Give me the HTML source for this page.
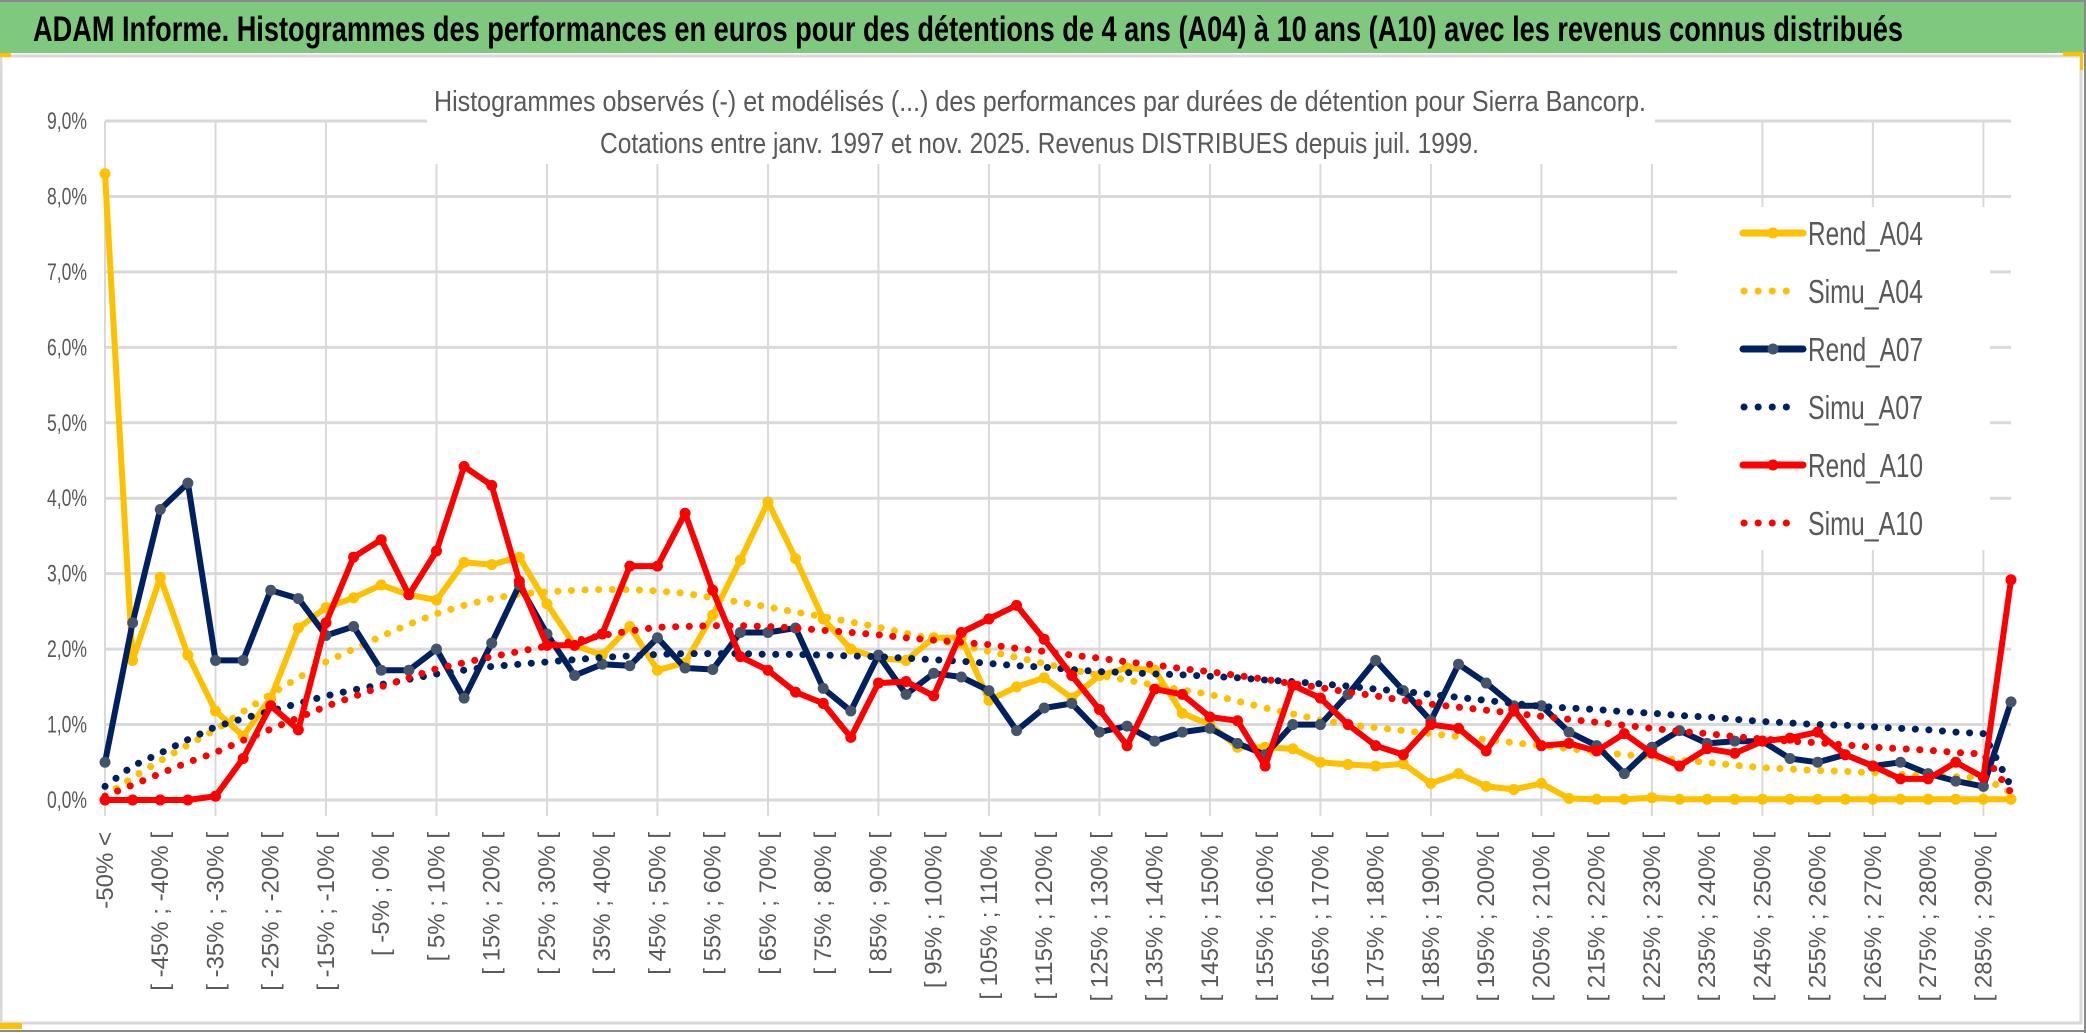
<!DOCTYPE html>
<html><head><meta charset="utf-8"><style>
html,body{margin:0;padding:0;background:#fff;}
svg{display:block;}
text{font-family:"Liberation Sans Narrow","Liberation Sans",sans-serif;}
</style></head><body>
<svg id="chart" width="2086" height="1033" viewBox="0 0 2086 1033" xmlns="http://www.w3.org/2000/svg">
<rect x="0" y="0" width="2086" height="1033" fill="#fff"/>
<rect x="0" y="1" width="2085" height="52" fill="#7FC97F"/>
<line x1="0" y1="1" x2="2086" y2="1" stroke="#8a8a8a" stroke-width="2"/>
<line x1="2085" y1="0" x2="2085" y2="1033" stroke="#8a8a8a" stroke-width="2"/>
<rect x="1" y="56" width="2080" height="967" fill="none" stroke="#d9d9d9" stroke-width="3"/>
<line x1="0" y1="1031" x2="2086" y2="1031" stroke="#8a8a8a" stroke-width="2"/>
<rect x="0" y="53" width="11" height="4" fill="#FFC000"/>
<rect x="0" y="1023" width="22" height="6" fill="#FFC000"/>
<rect x="2063" y="52" width="20" height="4" fill="#FFC000"/>
<rect x="2080" y="52" width="3" height="18" fill="#FFC000"/>
<text x="33" y="41" font-size="35" font-weight="bold" fill="#000" textLength="1870" lengthAdjust="spacingAndGlyphs">ADAM Informe. Histogrammes des performances en euros pour des détentions de 4 ans (A04) à 10 ans (A10) avec les revenus connus distribués</text>
<g id="grid"></g>
<g id="yticks"></g>
<g id="xticks"></g>
<rect x="427" y="84" width="1228" height="80" fill="#fff"/>
<text x="434" y="111" font-size="29" fill="#595959" textLength="1212" lengthAdjust="spacingAndGlyphs">Histogrammes observés (-) et modélisés (...) des performances par durées de détention pour Sierra Bancorp.</text>
<text x="600" y="153" font-size="29" fill="#595959" textLength="879" lengthAdjust="spacingAndGlyphs">Cotations entre janv. 1997 et nov. 2025. Revenus DISTRIBUES depuis juil. 1999.</text>
<g id="series"></g>
<rect x="1677" y="207" width="313" height="343" fill="#fff"/>
<g id="legend"></g>
</svg>
<script>
const categories = ["-50% <","[ -50% ; -45% [","[ -45% ; -40% [","[ -40% ; -35% [","[ -35% ; -30% [","[ -30% ; -25% [","[ -25% ; -20% [","[ -20% ; -15% [","[ -15% ; -10% [","[ -10% ; -5% [","[ -5% ; 0% [","[ 0% ; 5% [","[ 5% ; 10% [","[ 10% ; 15% [","[ 15% ; 20% [","[ 20% ; 25% [","[ 25% ; 30% [","[ 30% ; 35% [","[ 35% ; 40% [","[ 40% ; 45% [","[ 45% ; 50% [","[ 50% ; 55% [","[ 55% ; 60% [","[ 60% ; 65% [","[ 65% ; 70% [","[ 70% ; 75% [","[ 75% ; 80% [","[ 80% ; 85% [","[ 85% ; 90% [","[ 90% ; 95% [","[ 95% ; 100% [","[ 100% ; 105% [","[ 105% ; 110% [","[ 110% ; 115% [","[ 115% ; 120% [","[ 120% ; 125% [","[ 125% ; 130% [","[ 130% ; 135% [","[ 135% ; 140% [","[ 140% ; 145% [","[ 145% ; 150% [","[ 150% ; 155% [","[ 155% ; 160% [","[ 160% ; 165% [","[ 165% ; 170% [","[ 170% ; 175% [","[ 175% ; 180% [","[ 180% ; 185% [","[ 185% ; 190% [","[ 190% ; 195% [","[ 195% ; 200% [","[ 200% ; 205% [","[ 205% ; 210% [","[ 210% ; 215% [","[ 215% ; 220% [","[ 220% ; 225% [","[ 225% ; 230% [","[ 230% ; 235% [","[ 235% ; 240% [","[ 240% ; 245% [","[ 245% ; 250% [","[ 250% ; 255% [","[ 255% ; 260% [","[ 260% ; 265% [","[ 265% ; 270% [","[ 270% ; 275% [","[ 275% ; 280% [","[ 280% ; 285% [","[ 285% ; 290% [","290% >"];
const yTicks = [0,1,2,3,4,5,6,7,8,9];
const yTickLabels = ["0,0%","1,0%","2,0%","3,0%","4,0%","5,0%","6,0%","7,0%","8,0%","9,0%"];
const rendA04 = [8.3,1.85,2.95,1.92,1.18,0.85,1.35,2.28,2.55,2.68,2.85,2.72,2.65,3.15,3.12,3.22,2.6,2.05,1.92,2.3,1.72,1.82,2.45,3.18,3.95,3.2,2.4,2.0,1.88,1.85,2.15,2.15,1.32,1.5,1.62,1.35,1.65,1.75,1.72,1.15,1.0,0.7,0.7,0.68,0.5,0.47,0.45,0.48,0.22,0.35,0.18,0.14,0.22,0.02,0.01,0.01,0.03,0.01,0.01,0.01,0.01,0.01,0.01,0.01,0.01,0.01,0.01,0.01,0.01,0.01];
const simuA04 = [0.05,0.3,0.52,0.73,0.93,1.17,1.4,1.62,1.83,2.0,2.17,2.33,2.47,2.58,2.67,2.73,2.76,2.78,2.79,2.79,2.77,2.74,2.68,2.62,2.56,2.49,2.43,2.36,2.29,2.21,2.13,2.05,1.97,1.89,1.81,1.73,1.65,1.59,1.52,1.46,1.4,1.31,1.22,1.14,1.06,1.0,0.96,0.92,0.88,0.84,0.8,0.76,0.72,0.68,0.64,0.6,0.57,0.53,0.5,0.46,0.43,0.41,0.39,0.38,0.36,0.34,0.32,0.31,0.29,0.1];
const rendA07 = [0.5,2.35,3.85,4.2,1.85,1.85,2.78,2.67,2.18,2.3,1.72,1.72,2.0,1.35,2.08,2.85,2.2,1.65,1.8,1.78,2.15,1.75,1.73,2.22,2.22,2.28,1.48,1.18,1.92,1.4,1.68,1.63,1.45,0.92,1.22,1.28,0.9,0.98,0.78,0.9,0.95,0.75,0.6,1.0,1.0,1.4,1.85,1.45,1.05,1.8,1.55,1.25,1.25,0.9,0.72,0.35,0.7,0.92,0.75,0.78,0.78,0.55,0.5,0.6,0.45,0.5,0.35,0.25,0.18,1.3];
const simuA07 = [0.18,0.45,0.62,0.8,0.97,1.08,1.18,1.28,1.38,1.46,1.53,1.6,1.67,1.72,1.77,1.8,1.83,1.86,1.89,1.91,1.93,1.94,1.94,1.94,1.93,1.93,1.92,1.91,1.9,1.88,1.86,1.84,1.81,1.78,1.76,1.73,1.7,1.69,1.67,1.66,1.64,1.62,1.59,1.57,1.54,1.51,1.47,1.44,1.4,1.36,1.32,1.28,1.24,1.22,1.2,1.17,1.15,1.12,1.1,1.07,1.04,1.02,1.0,0.99,0.97,0.95,0.93,0.9,0.88,0.18];
const rendA10 = [0,0,0,0,0.05,0.55,1.25,0.93,2.35,3.22,3.45,2.72,3.3,4.42,4.17,2.9,2.05,2.05,2.2,3.1,3.1,3.8,2.78,1.9,1.72,1.43,1.28,0.83,1.55,1.57,1.38,2.22,2.4,2.58,2.13,1.65,1.2,0.72,1.47,1.4,1.1,1.05,0.45,1.52,1.35,1.0,0.72,0.6,1.0,0.95,0.65,1.2,0.72,0.75,0.65,0.88,0.62,0.45,0.68,0.62,0.78,0.82,0.9,0.6,0.45,0.28,0.28,0.5,0.3,2.92];
const simuA10 = [0.05,0.2,0.35,0.5,0.63,0.79,0.94,1.09,1.24,1.37,1.5,1.62,1.74,1.82,1.9,1.97,2.04,2.11,2.18,2.24,2.29,2.3,2.31,2.31,2.3,2.28,2.25,2.22,2.19,2.15,2.12,2.09,2.06,2.01,1.97,1.92,1.88,1.83,1.79,1.74,1.7,1.65,1.6,1.54,1.49,1.43,1.38,1.32,1.27,1.23,1.19,1.15,1.11,1.07,1.03,0.99,0.95,0.91,0.88,0.84,0.81,0.78,0.76,0.73,0.7,0.68,0.66,0.63,0.61,0.1];
const seriesNames = ["Rend_A04","Simu_A04","Rend_A07","Simu_A07","Rend_A10","Simu_A10"];

const NS = "http://www.w3.org/2000/svg";
const X0 = 105, X1 = 2011, Y0 = 800, YTOP = 121, YMAX = 9;
function xs(i){ return X0 + i * (X1 - X0) / (categories.length - 1); }
function ys(v){ return Y0 - v * (Y0 - YTOP) / YMAX; }
function mk(tag, attrs, parent){ const e = document.createElementNS(NS, tag); for (const k in attrs) e.setAttribute(k, attrs[k]); parent.appendChild(e); return e; }

const grid = document.getElementById('grid');
yTicks.forEach(function(t){
  const l = mk('line', {x1: X0, x2: X1, y1: ys(t), y2: ys(t), stroke: '#d9d9d9', 'stroke-width': 3}, grid);
  
  
});
for (let i = 0; i < categories.length; i += 4) {
  const l = mk('line', {x1: xs(i), x2: xs(i), y1: YTOP, y2: Y0 + 16, stroke: '#d9d9d9', 'stroke-width': 2}, grid);
  
  
}
const yt = document.getElementById('yticks');
yTicks.forEach(function(t, k){
  const e = mk('text', {x: 47, y: ys(t) + 8, 'font-size': 24, fill: '#595959', textLength: 40, lengthAdjust: 'spacingAndGlyphs'}, yt);
  e.textContent = yTickLabels[k];
  
  
});
const xt = document.getElementById('xticks');
for (let i = 0; i < categories.length - 1; i += 2) {
  const x = xs(i) + 8, y = 832;
  const e = mk('text', {x: x, y: y, 'text-anchor': 'end', 'font-size': 24, fill: '#595959', transform: 'rotate(-90 ' + x + ' ' + y + ')', style: 'font-family:"Liberation Sans",sans-serif'}, xt);
  e.textContent = categories[i];
  
  
}

const layer = document.getElementById('series');
function pts(arr){ return arr.map(function(v, i){ return xs(i).toFixed(1) + ',' + ys(v).toFixed(1); }).join(' '); }
function drawObserved(arr, color, markerColor, name){
  const g = mk('g', {}, layer);
  
  
  const p = mk('polyline', {points: pts(arr), fill: 'none', stroke: color, 'stroke-width': 6, 'stroke-linejoin': 'round'}, g);
  
  
  arr.forEach(function(v, i){
    const c = mk('circle', {cx: xs(i), cy: ys(v), r: 5.5, fill: markerColor}, g);
    
    
  });
}
function drawSimu(arr, color, name){
  const p = mk('polyline', {points: pts(arr), fill: 'none', stroke: color, 'stroke-width': 7, 'stroke-linecap': 'round', 'stroke-dasharray': '0.1 13.5'}, layer);
  
  
}
drawObserved(rendA04, '#FFC000', '#FFC000', 'rend-a04');
drawSimu(simuA04, '#FFC000', 'simu-a04');
drawObserved(rendA07, '#002060', '#44546A', 'rend-a07');
drawSimu(simuA07, '#002060', 'simu-a07');
drawObserved(rendA10, '#FF0000', '#FF0000', 'rend-a10');
drawSimu(simuA10, '#FF0000', 'simu-a10');

const lg = document.getElementById('legend');
const legendColors = ['#FFC000','#FFC000','#002060','#002060','#FF0000','#FF0000'];
const legendMarkers = ['#FFC000',null,'#44546A',null,'#FF0000',null];
seriesNames.forEach(function(n, k){
  const cy = 233 + k * 58;
  const g = mk('g', {}, lg);
  
  
  if (legendMarkers[k]) {
    mk('line', {x1: 1743, x2: 1803, y1: cy, y2: cy, stroke: legendColors[k], 'stroke-width': 7, 'stroke-linecap': 'round'}, g);
    mk('circle', {cx: 1773, cy: cy, r: 5.5, fill: legendMarkers[k]}, g);
  } else {
    mk('line', {x1: 1744, x2: 1800, y1: cy, y2: cy, stroke: legendColors[k], 'stroke-width': 7, 'stroke-linecap': 'round', 'stroke-dasharray': '0.1 14'}, g);
  }
  const t = mk('text', {x: 1808, y: cy + 12, 'font-size': 33, fill: '#595959', textLength: 115, lengthAdjust: 'spacingAndGlyphs'}, g);
  t.textContent = n;
});
</script>
</body></html>
